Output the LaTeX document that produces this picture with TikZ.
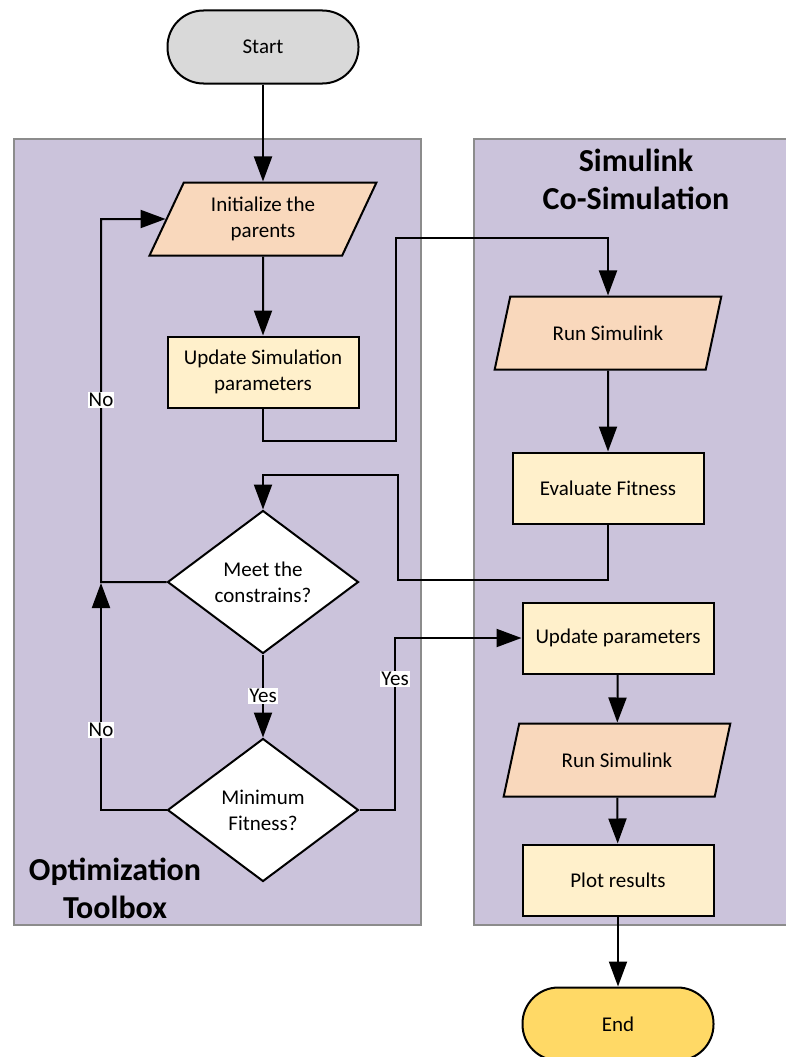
\documentclass[tikz,border=0pt]{standalone}
\usepackage{fontspec}
\setmainfont{Carlito}
\usetikzlibrary{shapes.geometric,arrows.meta}

\definecolor{lanefill}{HTML}{CBC3DB}
\definecolor{lanedraw}{HTML}{8C8C8C}
\definecolor{iofill}{HTML}{F9D8BC}
\definecolor{procfill}{HTML}{FFF0CB}
\definecolor{startfill}{HTML}{D9D9D9}
\definecolor{endfill}{HTML}{FFD966}

\tikzset{
  flow/.style={draw,line width=2pt,align=center,inner sep=2pt,
    font=\fontsize{21}{26}\selectfont},
  procbox/.style={flow,fill=procfill,minimum width=191pt,minimum height=71pt},
  iobox/.style={flow,fill=iofill,trapezium,trapezium left angle=64,
    trapezium right angle=116,trapezium stretches=true,
    minimum width=227pt,minimum height=73pt},
  decbox/.style={flow,fill=white,diamond,inner sep=0pt,
    minimum width=191pt,minimum height=143pt},
  termbox/.style={flow,rounded corners=36pt,minimum width=191pt,minimum height=73pt},
  arr/.style={line width=2pt,-{Triangle[width=18pt,length=25pt]}},
  lbl/.style={fill=white,inner sep=1pt,font=\fontsize{21}{26}\selectfont},
  lanetitle/.style={align=center,font=\fontsize{32}{38}\selectfont\bfseries}
}

\begin{document}
\begin{tikzpicture}[x=1pt,y=-1pt]
  \useasboundingbox (0,0) rectangle (786,1057);

  % lanes
  \draw[lanedraw,fill=lanefill,line width=1.5pt] (14,139) rectangle (421,925);
  \draw[lanedraw,fill=lanefill,line width=1.5pt] (474,139) rectangle (800,925);
  \node[lanetitle] (simtitle) at (636,179) {Simulink\\Co-Simulation};
  \node[lanetitle] (opttitle) at (115,888) {Optimization\\Toolbox};

  % optimization side
  \node[termbox,fill=startfill] (start) at (263,47) {Start};
  \node[iobox] (init) at (263,219) {Initialize the\\parents};
  \node[procbox] (updsim) at (263,372) {Update Simulation\\parameters};
  \node[decbox] (meet) at (263,582) {Meet the\\constrains?};
  \node[decbox] (minfit) at (263,810) {Minimum\\Fitness?};

  % simulink side
  \node[iobox] (run1) at (608,333) {Run Simulink};
  \node[procbox] (evalfit) at (608,488) {Evaluate Fitness};
  \node[procbox] (updpar) at (618,638) {Update parameters};
  \node[iobox] (run2) at (617,760) {Run Simulink};
  \node[procbox] (plot) at (618,880) {Plot results};
  \node[termbox,fill=endfill] (stop) at (618,1024) {End};

  % bends
  \coordinate (a1) at (396,441);
  \coordinate (a2) at (396,238);
  \coordinate (b1) at (398,580);
  \coordinate (b2) at (398,475);
  \coordinate (c1) at (101,219);
  \coordinate (c2) at (101,583);
  \coordinate (d1) at (395,638);

  \draw[arr] (start) -- (init);
  \draw[arr] (init) -- (updsim);
  \draw[arr] (updsim.south) |- (a1) -- (a2) -| (run1.north);
  \draw[arr] (run1) -- (evalfit);
  \draw[arr] (evalfit.south) |- (b1) -- (b2) -| (meet.north);
  \draw[arr] (meet.west) -| (c1) -- (init.west);
  \draw[arr] (meet) -- node[lbl] {Yes} (minfit);
  \draw[arr] (minfit.west) -| (c2);
  \draw[arr] (minfit.east) -| (d1) -- (updpar.west);
  \draw[arr] (updpar) -- (run2);
  \draw[arr] (run2) -- (plot);
  \draw[arr] (plot) -- (stop);

  \node[lbl] (no1) at (101,400) {No};
  \node[lbl] (no2) at (101,730) {No};
  \node[lbl] (yes2) at (395,679) {Yes};
\end{tikzpicture}
\end{document}
